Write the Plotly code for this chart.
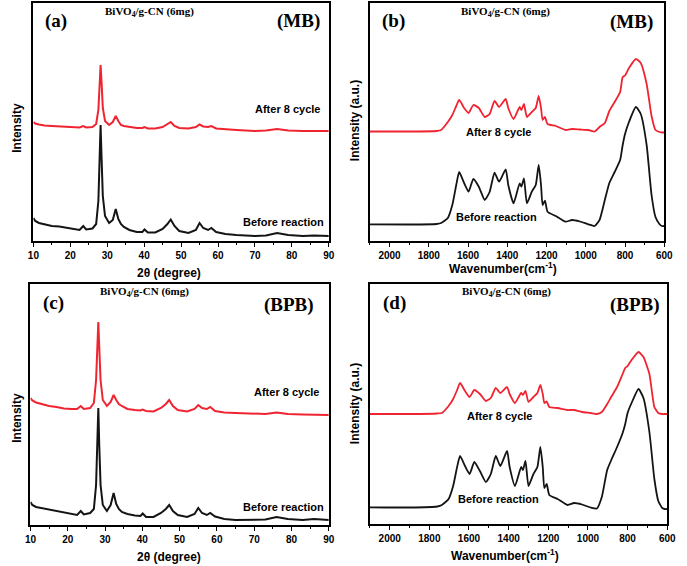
import plotly.graph_objects as go

W, H = 687, 566

# ---------------- XRD data (2theta, a.u.) ----------------
two_theta = [10, 10.5, 11.5, 13, 15, 17, 19, 21, 22.5, 23.5,
             24.3, 26, 27, 27.6, 28.0, 28.2, 28.45, 28.8, 29.4, 30.5,
             31.5, 32.3, 33, 33.7, 34.5, 36, 38, 39.5, 40.1, 41,
             43, 45, 46.3, 47.2, 48.2, 49.5, 52, 54, 55, 56,
             57.3, 58.2, 59.5, 62, 65, 70, 73, 76, 79, 83,
             86, 90]

xrd_mb_before = [23, 20, 18, 17, 15, 14.5, 13, 11.5, 11, 15,
                 11.5, 12.5, 17, 40, 95, 116, 85, 45, 25, 18,
                 21, 32, 22, 17, 14, 11, 9, 9, 11.5, 8.5,
                 8.5, 12, 17, 21.5, 15, 10, 8, 11, 18, 13,
                 11, 13, 9, 7, 6, 5, 5.5, 8, 6, 5,
                 5.5, 5]
xrd_mb_after = [119, 117.5, 116.5, 115.5, 115, 114.5, 114, 114, 113.5, 115,
                113.5, 114, 117, 131, 161, 176, 160, 133, 120, 116,
                119, 125, 120, 116, 115, 114, 113, 113, 114, 112.5,
                112.5, 114, 117, 119, 115, 113, 112.5, 114, 116.5, 114.5,
                114, 115, 112.5, 111.5, 111, 110, 110.5, 112, 110.5, 110,
                110, 110]
xrd_bpb_before = [23, 20, 18, 17, 15, 14, 12.5, 11, 10, 14,
                  10.5, 12, 16, 40, 85, 117, 80, 40, 20, 14,
                  20, 32, 21, 16, 13, 11, 9.5, 9, 11.5, 8,
                  8, 12, 16, 20, 14, 10, 8, 11, 17, 12,
                  10, 12, 8.5, 6, 5, 5, 5.5, 8, 6, 5,
                  6, 5]
xrd_bpb_after = [127, 124.5, 122.5, 121, 119, 118, 116.5, 116, 116, 119,
                 116, 117, 122, 145, 180, 203, 178, 145, 125, 119,
                 123, 130, 125, 121, 119, 116, 115, 114.5, 115.5, 114,
                 113.5, 117, 121, 125, 119, 115, 113.5, 116, 120, 117,
                 116, 118, 114, 112.5, 112, 111, 111, 112.5, 111, 110.5,
                 110.5, 110]

# ---------------- FTIR data (cm-1, a.u.) ----------------
wavenumber = [2100, 1900, 1760, 1737, 1703, 1680, 1660, 1645, 1620, 1597,
              1573, 1545, 1515, 1490, 1465, 1442, 1408, 1395, 1368, 1337,
              1328, 1315, 1300, 1275, 1255, 1240, 1228, 1220, 1208, 1195,
              1153, 1103, 1070, 1030, 987, 955, 930, 903, 880, 853,
              825, 812, 800, 780, 745, 720, 690, 665, 645, 625,
              612, 600]

ftir_mb_after = [109.5, 109.5, 110, 111, 119, 126, 135, 141, 133, 128,
                 136, 133, 124, 127, 140, 134, 142, 133, 122, 134,
                 131, 137, 124, 129, 133, 145, 133, 121, 124, 117,
                 115, 111, 112, 111.5, 111, 109.5, 114, 118, 130, 139,
                 149, 164, 165.5, 173, 182, 178, 157, 125, 111, 109,
                 108.5, 108.5]
ftir_mb_before = [16.7, 16.5, 17, 18, 23, 36, 56, 69, 58, 49.3,
                  62, 54.3, 41, 49, 68.3, 59.3, 71.7, 56, 37.7, 57.7,
                  54.3, 62.7, 37.7, 49.3, 56, 76, 56, 36, 40.3, 29.3,
                  25, 19.3, 21, 19.5, 16.7, 15, 21, 41, 58, 69,
                  81, 96, 107, 119, 134, 127, 96, 46, 24, 17,
                  15, 15]
ftir_bpb_after = [110, 110, 110.5, 111, 118, 125, 134, 141, 133, 127,
                  134, 130, 123, 126, 136, 131, 137, 130, 121, 131,
                  129, 133, 122, 127, 131, 139, 130, 121, 122.5, 117,
                  116, 114, 114, 112, 111, 110, 112, 120, 128, 137,
                  150, 156, 158, 164, 172, 167, 150, 117, 111, 110,
                  110, 110]
ftir_bpb_before = [16.7, 16.5, 17.5, 19, 25, 38, 57, 68, 58, 50,
                   62, 53, 42, 50, 68, 58, 73, 57, 38, 57,
                   54, 63, 38, 50, 57, 77, 57, 36, 40, 29,
                   25, 19, 21, 19.5, 16.5, 15.5, 27, 54, 65, 77,
                   91, 100, 111, 121, 135, 126, 92, 45, 23, 16,
                   15, 15]

xrd_ticks = [10, 20, 30, 40, 50, 60, 70, 80, 90]
ftir_ticks = [2000, 1800, 1600, 1400, 1200, 1000, 800, 600]

RED = "rgb(240,36,48)"
BLACK = "rgb(20,20,20)"

def px(x):
    return x / W

def py(y):
    return 1 - y / H

fig = go.Figure()

panels = [
    ("x", "y", two_theta, xrd_mb_before, xrd_mb_after, "linear", 2.0),
    ("x2", "y2", wavenumber, ftir_mb_before, ftir_mb_after, "spline", 1.8),
    ("x3", "y3", two_theta, xrd_bpb_before, xrd_bpb_after, "linear", 2.0),
    ("x4", "y4", wavenumber, ftir_bpb_before, ftir_bpb_after, "spline", 1.8),
]
for xa, ya, xs, yb, yr, shape, lw in panels:
    line_kw = dict(width=lw, shape=shape)
    if shape == "spline":
        line_kw["smoothing"] = 0.5
    fig.add_trace(go.Scatter(x=xs, y=yr, xaxis=xa, yaxis=ya, mode="lines",
                             line=dict(color=RED, **line_kw), showlegend=False))
    fig.add_trace(go.Scatter(x=xs, y=yb, xaxis=xa, yaxis=ya, mode="lines",
                             line=dict(color=BLACK, **line_kw), showlegend=False))

tickfont = dict(family="Liberation Sans", size=10, color="black", weight="bold")

def xaxis(domain, rng, ticks, anchor, minor_dtick):
    return dict(domain=domain, range=rng, anchor=anchor, tickvals=ticks,
                ticktext=[str(t) for t in ticks], ticks="outside", ticklen=4,
                tickwidth=1.2, tickcolor="black", showline=True, linecolor="black",
                linewidth=1.5, mirror=True, showgrid=False, zeroline=False,
                tickfont=tickfont,
                minor=dict(dtick=minor_dtick, ticks="outside", ticklen=2.5,
                           tickwidth=1, tickcolor="black", showgrid=False, tick0=0))

def yaxis(domain, rng, anchor):
    return dict(domain=domain, range=rng, anchor=anchor, showticklabels=False,
                ticks="", showline=True, linecolor="black", linewidth=1.5,
                mirror=True, showgrid=False, zeroline=False)

fig.update_layout(
    width=W, height=H, margin=dict(l=0, r=0, t=0, b=0),
    paper_bgcolor="white", plot_bgcolor="white",
    xaxis=xaxis([px(28), px(330)], [10, 90], xrd_ticks, "y", 5),
    yaxis=yaxis([py(241), py(3)], [0, 238], "x"),
    xaxis2=xaxis([px(372), px(673)], [2100, 600], ftir_ticks, "y2", 100),
    yaxis2=yaxis([py(241), py(3)], [0, 238], "x2"),
    xaxis3=xaxis([px(25), px(330)], [10, 90], xrd_ticks, "y3", 5),
    yaxis3=yaxis([py(525), py(284)], [0, 241], "x3"),
    xaxis4=xaxis([px(372), px(676)], [2100, 600], ftir_ticks, "y4", 100),
    yaxis4=yaxis([py(524), py(284)], [0, 240], "x4"),
)

ann = []

def text(x, y, s, size=11, serif=False, xanchor="center", angle=0):
    ann.append(dict(x=px(x), y=py(y), xref="paper", yref="paper", text="<b>" + s + "</b>",
                    showarrow=False, xanchor=xanchor, yanchor="middle", textangle=angle,
                    font=dict(family="Liberation Serif" if serif else "Liberation Sans",
                              size=size, color="black")))

title_bivo = "BiVO<sub>4</sub>/g-CN (6mg)"
# (a)
text(51, 21, "(a)", 19, True)
text(299, 21, "(MB)", 19, True)
text(147, 12, title_bivo, 11, True)
text(323, 109, "After 8 cycle", 11, xanchor="right")
text(327, 222, "Before reaction", 11, xanchor="right")
text(11, 128, "Intensity", 12, angle=-90)
text(167, 273, "2θ (degree)", 12)
# (b)
text(396, 21, "(b)", 19, True)
text(639, 22, "(MB)", 19, True)
text(511, 12, title_bivo, 11, True)
text(504, 132, "After 8 cycle", 11)
text(501, 217, "Before reaction", 11)
text(357, 121, "Intensity (a.u.)", 12, angle=-90)
text(508, 268, "Wavenumber(cm<sup>-1</sup>)", 12)
# (c)
text(49, 303, "(c)", 19, True)
text(289, 305, "(BPB)", 19, True)
text(142, 292, title_bivo, 11, True)
text(322, 392, "After 8 cycle", 11, xanchor="right")
text(327, 507, "Before reaction", 11, xanchor="right")
text(11, 418, "Intensity", 12, angle=-90)
text(167, 557, "2θ (degree)", 12)
# (d)
text(397, 303, "(d)", 19, True)
text(643, 305, "(BPB)", 19, True)
text(512, 292, title_bivo, 11, True)
text(505, 416, "After 8 cycle", 11)
text(503, 499, "Before reaction", 11)
text(357, 404, "Intensity (a.u.)", 12, angle=-90)
text(510, 555, "Wavenumber(cm<sup>-1</sup>)", 12)

fig.update_layout(annotations=ann)
fig.write_html("out.html")
